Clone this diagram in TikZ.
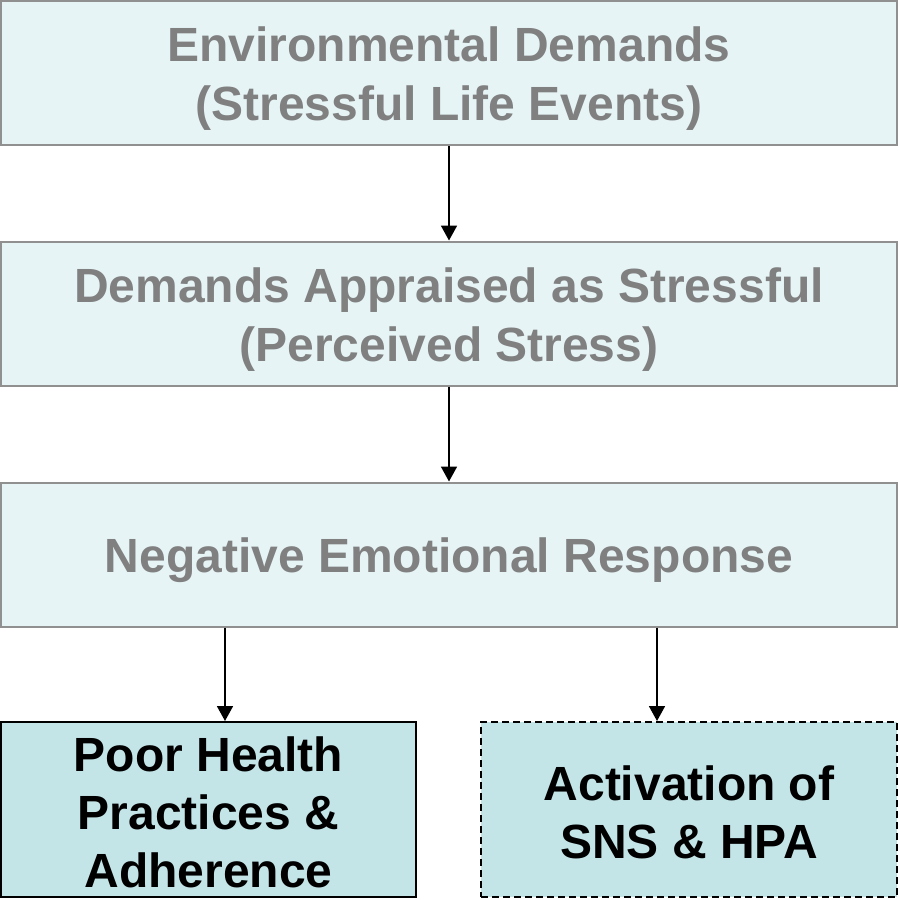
\documentclass[tikz,border=0pt]{standalone}
\usepackage{fontspec}
\setmainfont{Liberation Sans}
\usetikzlibrary{arrows.meta}
\definecolor{lightfill}{HTML}{E6F4F6}
\definecolor{darkfill}{HTML}{C4E5E8}
\definecolor{boxgray}{HTML}{909090}
\definecolor{textgray}{HTML}{808080}
\tikzset{
  topbox/.style={draw=boxgray, line width=2pt, fill=lightfill, rectangle,
    minimum width=896pt, minimum height=144pt, inner sep=0pt},
  toptext/.style={align=center, text=textgray, inner sep=0pt, yshift=-6pt,
    font=\fontsize{48}{59}\selectfont\bfseries},
  lowbox/.style={draw=black, line width=2pt, fill=darkfill, rectangle,
    minimum width=415pt, minimum height=175pt, inner sep=0pt},
  lowtext/.style={align=center, text=black, inner sep=0pt, yshift=-3pt,
    font=\fontsize{48}{58}\selectfont\bfseries},
  flow/.style={line width=1.8pt, -{Triangle[width=16pt,length=15pt]}}
}
\begin{document}
\begin{tikzpicture}[x=1pt,y=-1pt]
\useasboundingbox (0,0) rectangle (899,900);
\node[topbox] (env) at (449,73) {};
\node[toptext] (envt) at (env.center) {Environmental Demands\\(Stressful Life Events)};
\node[topbox] (app) at (449,313.5) {};
\node[toptext] (appt) at (app.center) {Demands Appraised as Stressful\\(Perceived Stress)};
\node[topbox] (neg) at (449,554.5) {};
\node[toptext] (negt) at (neg.center) {Negative Emotional Response};
\node[lowbox] (poor) at (208.5,809.5) {};
\node[lowtext] (poort) at (poor.center) {Poor Health\\Practices \&\\Adherence};
\node[lowbox, dash pattern=on 7pt off 4pt, minimum width=416pt] (sns) at (689,809.5) {};
\node[lowtext] (snst) at (sns.center) {Activation of\\SNS \& HPA};
\draw[flow] (env.south) -- (app.north);
\draw[flow] (app.south) -- (neg.north);
\coordinate (a1) at (225,0 |- neg.south);
\coordinate (a2) at (657,0 |- neg.south);
\draw[flow] (a1) -- (a1 |- poor.north);
\draw[flow] (a2) -- (a2 |- sns.north);
\end{tikzpicture}
\end{document}
